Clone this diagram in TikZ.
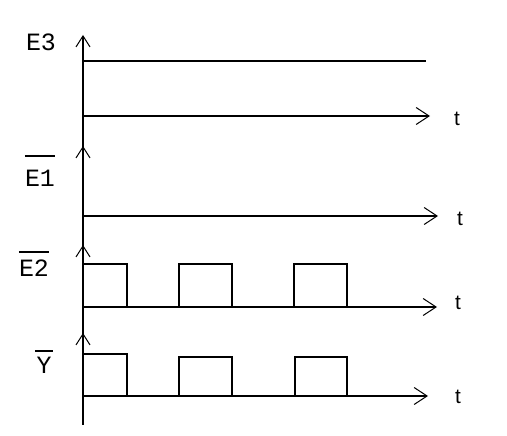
\documentclass[tikz,border=0pt]{standalone}
\usepackage{fontspec}
\setmainfont{Liberation Mono}
\setsansfont{Liberation Sans}
\usetikzlibrary{arrows.meta}
\begin{document}
\begin{tikzpicture}[x=1pt,y=-1pt,
  sig/.style={line width=1.1pt,line cap=rect},
  axisline/.style={line width=1.3pt},
  tarrow/.style={line width=1.3pt,-{Straight Barb[length=13pt,width=17pt,line width=1pt]}},
  uparrow/.style={line width=1.1pt,-{Straight Barb[length=11pt,width=14pt,line width=1pt]}},
  lbl/.style={inner sep=0pt,font=\rmfamily\Huge},
  tlbl/.style={inner sep=0pt,font=\sffamily\huge},
  bar/.style={line width=1.1pt}]
\useasboundingbox (0,0) rectangle (507,436);
% vertical axis
\coordinate (vtop) at (83,36);
\coordinate (vbot) at (83,425);
\draw[axisline] (vtop) -- (vbot);
% up arrow heads
\coordinate (u1) at (83,35);
\coordinate (u2) at (83,146);
\coordinate (u3) at (83,245);
\coordinate (u4) at (83,333);
\foreach \u in {u1,u2,u3,u4}{\draw[uparrow] ([yshift=-25pt]\u) -- (\u);}
% time axes
\coordinate (a1) at (83,116); \coordinate (t1) at (430,116);
\coordinate (a2) at (83,216); \coordinate (t2) at (438,216);
\coordinate (a3) at (83,307); \coordinate (t3) at (437,307);
\coordinate (a4) at (83,396); \coordinate (t4) at (428,396);
\draw[tarrow] (a1) -- (t1);
\draw[tarrow] (a2) -- (t2);
\draw[tarrow] (a3) -- (t3);
\draw[tarrow] (a4) -- (t4);
\node[tlbl] (tl1) at (457,119) {t};
\node[tlbl] (tl2) at (460,219) {t};
\node[tlbl] (tl3) at (458,303) {t};
\node[tlbl] (tl4) at (458,397) {t};
% E3 signal
\coordinate (e3s) at (83,61); \coordinate (e3e) at (425,61);
\draw[sig] (e3s) -- (e3e);
% E2 signal
\draw[sig] (83,264) -- (127,264) -- (127,307);
\draw[sig] (179,307) -- (179,264) -- (232,264) -- (232,307);
\draw[sig] (294,307) -- (294,264) -- (347,264) -- (347,307);
% Y signal
\draw[sig] (83,354) -- (127,354) -- (127,396);
\draw[sig] (179,396) -- (179,357) -- (232,357) -- (232,396);
\draw[sig] (295,396) -- (295,357) -- (347,357) -- (347,396);
% labels
\node[lbl] (le3) at (41,42) {E3};
\node[lbl] (le1) at (40,178) {E1};
\coordinate (o1) at (0,156);
\draw[bar] (le1.west |- o1) -- (le1.east |- o1);
\node[lbl] (le2) at (34,268) {E2};
\coordinate (o2) at (0,252);
\draw[bar] (le2.west |- o2) -- (le2.east |- o2);
\node[lbl] (ly) at (44,365) {Y};
\coordinate (o3) at (0,351);
\draw[bar] ([xshift=-1pt]ly.west |- o3) -- ([xshift=1pt]ly.east |- o3);
\end{tikzpicture}
\end{document}
